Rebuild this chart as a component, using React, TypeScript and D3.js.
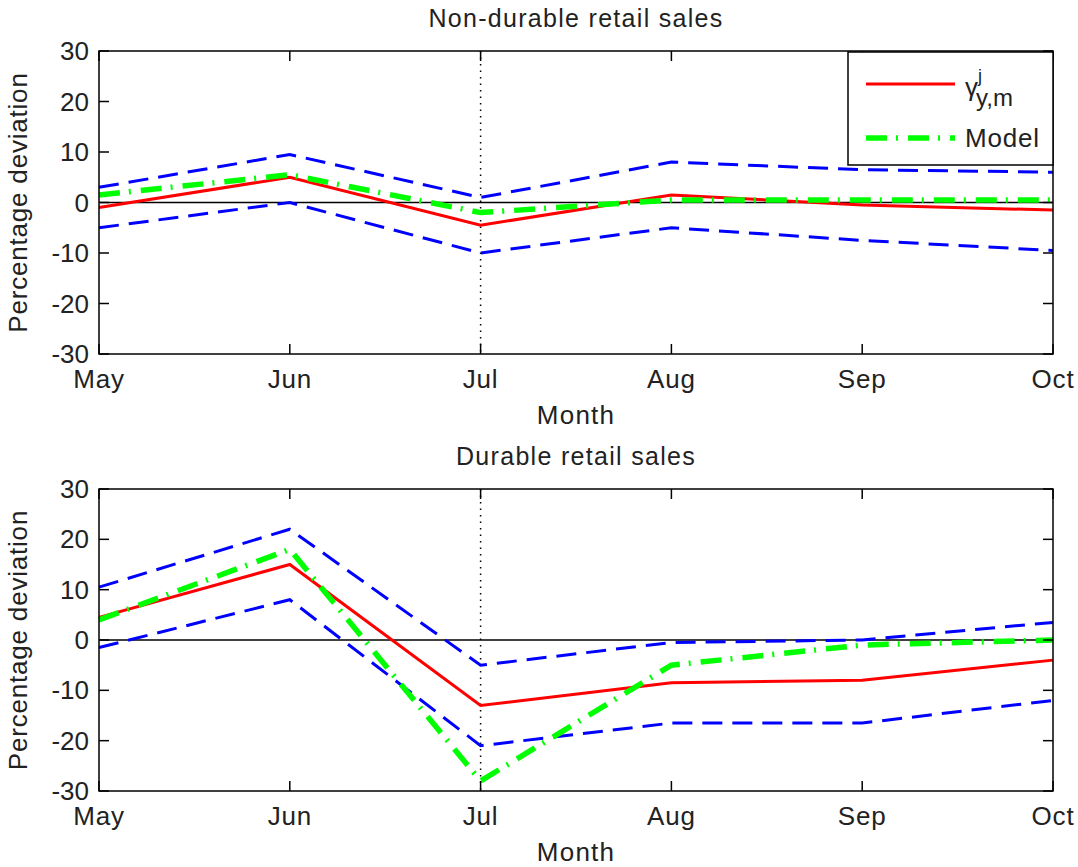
import React from 'react';
import * as d3 from 'd3';

const months = ['May', 'Jun', 'Jul', 'Aug', 'Sep', 'Oct'];
const yTicks = [-30, -20, -10, 0, 10, 20, 30];

// Non-durable retail sales
const nonDurData = [-1, 5, -4.5, 1.5, -0.5, -1.5];
const nonDurModel = [1.5, 5.5, -2, 0.5, 0.5, 0.5];
const nonDurUpper = [3, 9.5, 1, 8, 6.5, 6];
const nonDurLower = [-5, 0, -10, -5, -7.5, -9.5];

// Durable retail sales
const durData = [4.5, 15, -13, -8.5, -8, -4];
const durModel = [4, 18, -28, -5, -1, 0];
const durUpper = [10.5, 22, -5, -0.5, 0, 3.5];
const durLower = [-1.5, 8, -21, -16.5, -16.5, -12];

const FONT = '"Liberation Sans", Arial, sans-serif';
const W = 1078;
const H = 867;
const left = 99;
const right = 1053;

function Panel({ top, bottom, title, data, model, upper, lower, legend }) {
  const x = d3.scalePoint().domain(months).range([left, right]);
  const y = d3.scaleLinear().domain([-30, 30]).range([bottom, top]);
  const line = d3
    .line()
    .x((d, i) => x(months[i]))
    .y((d) => y(d));
  const tk = 10;
  return (
    <g>
      <text x={(left + right) / 2} y={top - 24} textAnchor="middle" fontSize={25} letterSpacing={1.3} fontFamily={FONT} fill="#222">
        {title}
      </text>
      <line x1={left} x2={right} y1={y(0)} y2={y(0)} stroke="#000" strokeWidth={1.5} />
      <line x1={x('Jul')} x2={x('Jul')} y1={top} y2={bottom} stroke="#000" strokeWidth={1.5} strokeDasharray="1.5,5" />
      <path d={line(upper)} fill="none" stroke="#0000ff" strokeWidth={3} strokeDasharray="20,10" />
      <path d={line(lower)} fill="none" stroke="#0000ff" strokeWidth={3} strokeDasharray="20,10" />
      <path d={line(data)} fill="none" stroke="#ff0000" strokeWidth={3} />
      <path d={line(model)} fill="none" stroke="#00ff00" strokeWidth={5.5} strokeDasharray="21,9,2,10" />
      <rect x={left} y={top} width={right - left} height={bottom - top} fill="none" stroke="#000" strokeWidth={1.5} />
      {months.map((m) => (
        <g key={m}>
          <line x1={x(m)} x2={x(m)} y1={bottom} y2={bottom - tk} stroke="#000" strokeWidth={1.5} />
          <line x1={x(m)} x2={x(m)} y1={top} y2={top + tk} stroke="#000" strokeWidth={1.5} />
          <text x={x(m)} y={bottom + 34} textAnchor="middle" fontSize={26} letterSpacing={0.8} fontFamily={FONT} fill="#222">
            {m}
          </text>
        </g>
      ))}
      {yTicks.map((t) => (
        <g key={t}>
          <line x1={left} x2={left + tk} y1={y(t)} y2={y(t)} stroke="#000" strokeWidth={1.5} />
          <line x1={right} x2={right - tk} y1={y(t)} y2={y(t)} stroke="#000" strokeWidth={1.5} />
          <text x={left - 10} y={y(t) + 9} textAnchor="end" fontSize={26} fontFamily={FONT} fill="#222">
            {t}
          </text>
        </g>
      ))}
      <text x={(left + right) / 2} y={bottom + 70} textAnchor="middle" fontSize={26} letterSpacing={1.2} fontFamily={FONT} fill="#222">
        Month
      </text>
      <text
        transform={`translate(27,${(top + bottom) / 2}) rotate(-90)`}
        textAnchor="middle"
        fontSize={26}
        letterSpacing={0.8}
        fontFamily={FONT}
        fill="#222"
      >
        Percentage deviation
      </text>
      {legend && (
        <g>
          <rect x={848} y={top + 1} width={right - 848} height={113} fill="#fff" stroke="#000" strokeWidth={1.5} />
          <line x1={866} x2={955} y1={top + 33} y2={top + 33} stroke="#ff0000" strokeWidth={3} />
          <line x1={866} x2={955} y1={top + 87} y2={top + 87} stroke="#00ff00" strokeWidth={5.5} strokeDasharray="21,9,2,10" />
          <text x={965} y={top + 45} fontSize={26} fontFamily={FONT} fill="#222">
            γ
            <tspan dy={-14} fontSize={18}>j</tspan>
            <tspan dx={-6} dy={24} fontSize={24}>y,m</tspan>
          </text>
          <text x={965} y={top + 96} fontSize={26} letterSpacing={0.8} fontFamily={FONT} fill="#222">
            Model
          </text>
        </g>
      )}
    </g>
  );
}

export default function App() {
  return (
    <svg width={W} height={H} style={{ position: 'absolute', left: 0, top: 0, background: '#fff' }}>
      <rect width={W} height={H} fill="#fff" />
      <Panel
        top={51}
        bottom={354}
        title="Non-durable retail sales"
        data={nonDurData}
        model={nonDurModel}
        upper={nonDurUpper}
        lower={nonDurLower}
        legend
      />
      <Panel
        top={489}
        bottom={791}
        title="Durable retail sales"
        data={durData}
        model={durModel}
        upper={durUpper}
        lower={durLower}
        legend={false}
      />
    </svg>
  );
}
